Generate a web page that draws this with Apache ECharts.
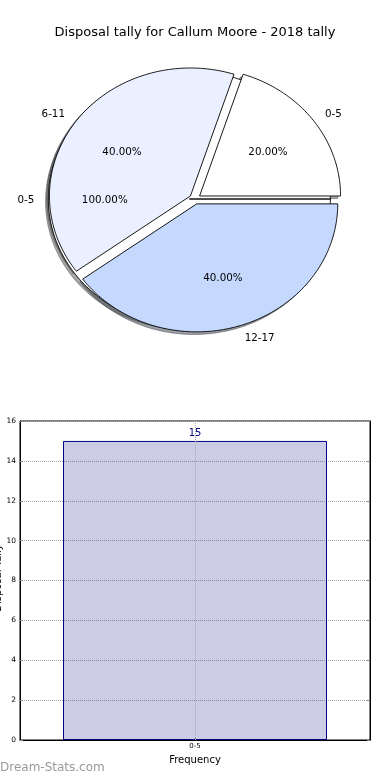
<!DOCTYPE html>
<html>
<head>
<meta charset="utf-8">
<script src="https://cdn.jsdelivr.net/npm/echarts@6/dist/echarts.min.js"></script>
<style>
html,body{margin:0;padding:0;background:#fff;}
#chart{width:390px;height:780px;}
</style>
</head>
<body>
<div id="chart"></div>
<script>
// ---- data ----
const chartTitle = 'Disposal tally for Callum Moore - 2018 tally';
const basePieCategories = ['0-5'];
const basePieValues = [100];
const pieCategories = ['0-5', '6-11', '12-17'];
const pieValues = [20, 40, 40];
const barCategories = ['0-5'];
const barValues = [15];
const yAxisName = 'Disposal Tally';
const xAxisName = 'Frequency';
const watermark = 'Dream-Stats.com';

// ---- styles ----
const basePieColors = ['#ffffff'];
const pieColors = ['#ffffff', '#eaf0ff', '#c5d8fe'];
const EXPLODE = 0.04;
const SHADOW_DX = -2.8, SHADOW_DY = 2.6;
const FONT = 'DejaVu Sans';

function wedge(values, i) {
  const total = values.reduce((a, b) => a + b, 0);
  let cum = 0;
  for (let k = 0; k < i; k++) cum += values[k];
  const a0 = cum / total * 2 * Math.PI;
  const a1 = (cum + values[i]) / total * 2 * Math.PI;
  const am = (a0 + a1) / 2;
  return { total, a0, a1, am, ox: EXPLODE * Math.cos(am), oy: EXPLODE * Math.sin(am) };
}

function wedgePoints(api, w) {
  const pts = [api.coord([w.ox, w.oy])];
  const n = Math.max(2, Math.ceil((w.a1 - w.a0) / (Math.PI / 180)));
  for (let s = 0; s <= n; s++) {
    const t = w.a0 + (w.a1 - w.a0) * s / n;
    pts.push(api.coord([w.ox + Math.cos(t), w.oy + Math.sin(t)]));
  }
  return pts;
}

function makeShadowRender(values, colors) {
  return function (params, api) {
    const i = params.dataIndex;
    const w = wedge(values, i);
    const pts = wedgePoints(api, w).map(p => [p[0] + SHADOW_DX, p[1] + SHADOW_DY]);
    const c = echarts.color.parse(colors[i]);
    const col = 'rgba(' + Math.round(c[0] * 0.3) + ',' + Math.round(c[1] * 0.3) + ',' + Math.round(c[2] * 0.3) + ',0.5)';
    return { type: 'polygon', shape: { points: pts }, style: { fill: col, stroke: col, lineWidth: 1 } };
  };
}

function makeWedgeRender(values, colors) {
  return function (params, api) {
    const i = params.dataIndex;
    const w = wedge(values, i);
    return { type: 'polygon', shape: { points: wedgePoints(api, w) }, style: { fill: colors[i], stroke: '#000', lineWidth: 0.9 } };
  };
}

function makeLabelRender(values, cats) {
  return function (params, api) {
    const i = params.dataIndex;
    const w = wedge(values, i);
    const lp = api.coord([w.ox + 1.1 * Math.cos(w.am), w.oy + 1.1 * Math.sin(w.am)]);
    const pp = api.coord([w.ox + 0.6 * Math.cos(w.am), w.oy + 0.6 * Math.sin(w.am)]);
    const pct = (values[i] / w.total * 100).toFixed(2) + '%';
    return {
      type: 'group',
      children: [
        { type: 'text', x: lp[0], y: lp[1] + 1, style: { text: cats[i], fill: '#000', font: '10.3px "' + FONT + '"', align: Math.cos(w.am) > 0 ? 'left' : 'right', verticalAlign: 'middle' } },
        { type: 'text', x: pp[0], y: pp[1] + 1, style: { text: pct, fill: '#000', font: '10.3px "' + FONT + '"', align: 'center', verticalAlign: 'middle' } }
      ]
    };
  };
}

const chart = echarts.init(document.getElementById('chart'), null, { renderer: 'canvas' });

const pieData = v => v.map(x => [0, 0, x]);
function pieSeries(name, z, renderItem, values) {
  return { type: 'custom', name, xAxisIndex: 0, yAxisIndex: 0, z, renderItem, data: pieData(values), encode: { x: 0, y: 1 }, silent: true };
}

const option = {
  animation: false,
  backgroundColor: '#fff',
  textStyle: { fontFamily: FONT },
  title: {
    text: chartTitle, left: 'center', top: 21,
    textStyle: { fontFamily: FONT, fontSize: 13, fontWeight: 'normal', color: '#000' }
  },
  grid: [
    { left: 54, top: 71, width: 282, height: 256, show: false, outerBoundsMode: 'none', containLabel: false },
    { left: 20, right: 20, top: 421, bottom: 40, show: true, borderColor: '#000', borderWidth: 1, backgroundColor: 'transparent', outerBoundsMode: 'none', containLabel: false }
  ],
  xAxis: [
    { gridIndex: 0, type: 'value', min: -1, max: 1, show: false },
    {
      gridIndex: 1, type: 'category', data: barCategories, boundaryGap: true,
      axisLine: { lineStyle: { color: '#000', width: 1 } },
      axisTick: { show: true, alignWithLabel: true, inside: true, length: 3, lineStyle: { color: '#888' } },
      axisLabel: { fontSize: 7, color: '#000', margin: 3, fontFamily: FONT },
      splitLine: { show: false },
      name: xAxisName, nameLocation: 'middle', nameGap: 15,
      nameTextStyle: { fontSize: 10, color: '#000', fontFamily: FONT }
    }
  ],
  yAxis: [
    { gridIndex: 0, type: 'value', min: -1, max: 1, show: false },
    {
      gridIndex: 1, type: 'value', min: 0, max: 16, interval: 2,
      axisLine: { show: true, lineStyle: { color: '#000', width: 1 } },
      axisTick: { show: true, inside: true, length: 3, lineStyle: { color: '#888' } },
      axisLabel: { fontSize: 7.5, color: '#000', margin: 4, fontFamily: FONT },
      splitLine: { show: true, lineStyle: { type: 'dotted', color: '#aaaaaa', width: 1 } }
    },
    {
      gridIndex: 1, type: 'value', min: 0, max: 16, interval: 2, position: 'right',
      axisLine: { show: true, lineStyle: { color: '#000', width: 1 } },
      axisTick: { show: true, inside: true, length: 3, lineStyle: { color: '#888' } },
      axisLabel: { show: false },
      splitLine: { show: false }
    }
  ],
  series: [
    pieSeries('baseShadow', 1, makeShadowRender(basePieValues, basePieColors), basePieValues),
    pieSeries('mainShadow', 1, makeShadowRender(pieValues, pieColors), pieValues),
    pieSeries('basePie', 2, makeWedgeRender(basePieValues, basePieColors), basePieValues),
    pieSeries('mainPie', 3, makeWedgeRender(pieValues, pieColors), pieValues),
    pieSeries('baseLabels', 4, makeLabelRender(basePieValues, basePieCategories), basePieValues),
    pieSeries('mainLabels', 4, makeLabelRender(pieValues, pieCategories), pieValues),
    {
      type: 'bar', xAxisIndex: 1, yAxisIndex: 1, data: barValues, barWidth: 264,
      itemStyle: { color: 'rgba(0,0,128,0.2)', borderColor: '#000080', borderWidth: 1 },
      label: { show: true, position: 'top', distance: 3, color: '#000080', fontSize: 10, fontFamily: FONT },
      markLine: {
        silent: true, symbol: 'none', label: { show: false },
        lineStyle: { type: 'dotted', color: '#aaaaaa', width: 1 },
        data: [{ xAxis: barCategories[0] }]
      }
    }
  ],
  graphic: [
    { type: 'text', left: 0, top: 762, style: { text: watermark, fill: '#999', font: '12px "' + FONT + '"' } },
    { type: 'text', x: -2, y: 578, rotation: Math.PI / 2, style: { text: yAxisName, fill: '#000', font: '10px "' + FONT + '"', align: 'center', verticalAlign: 'middle' } }
  ]
};

chart.setOption(option);
</script>
</body>
</html>
